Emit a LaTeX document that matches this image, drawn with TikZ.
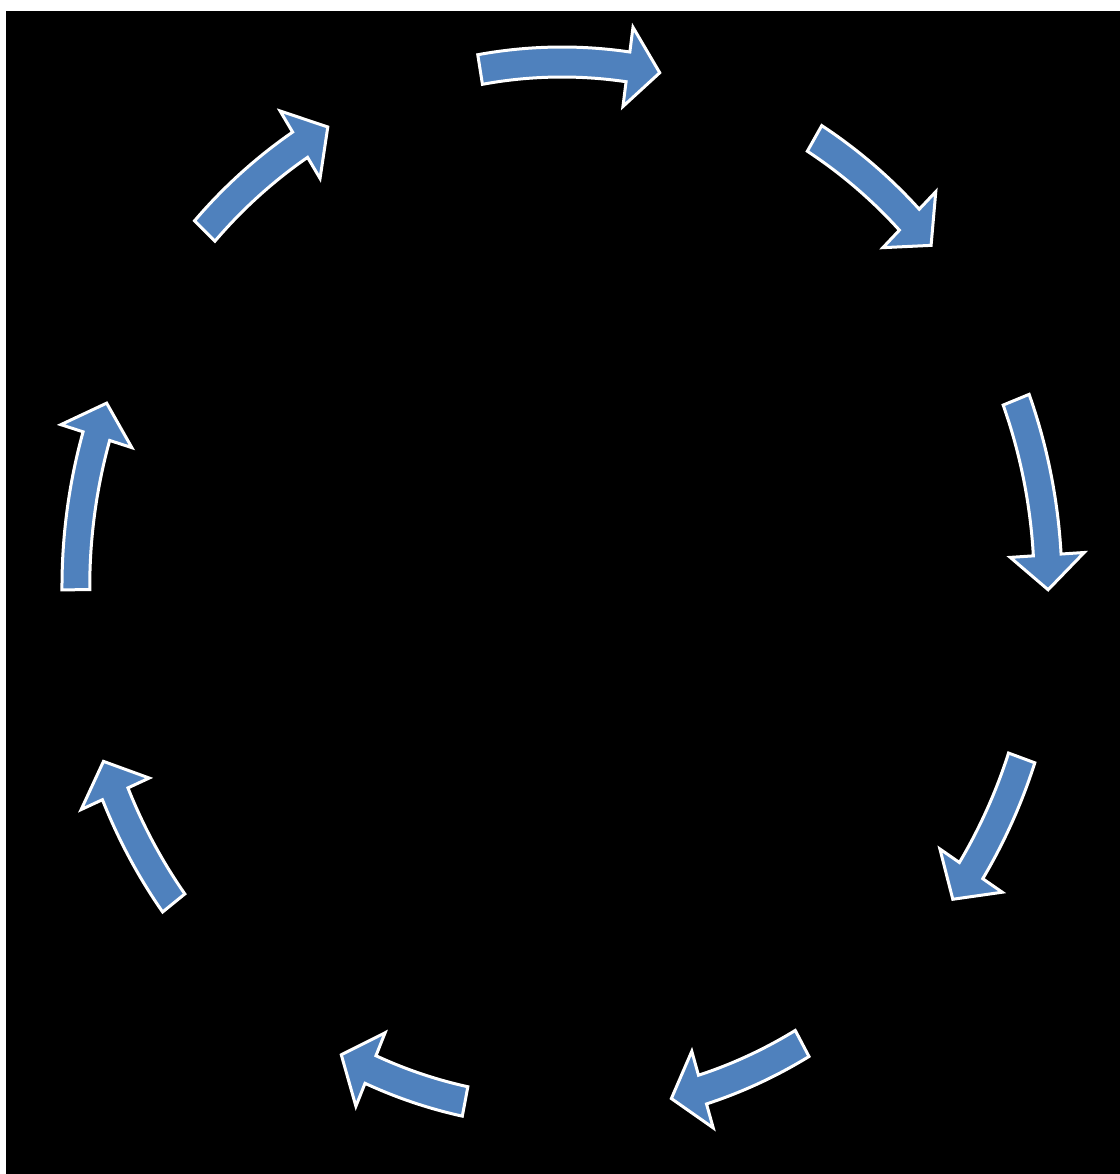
\documentclass[tikz,border=0pt]{standalone}
\usepackage{xcolor}
\usepackage{tikz}
\usetikzlibrary{calc}

\definecolor{cycblue}{HTML}{4F81BD}

\begin{document}
\begin{tikzpicture}[
  x=0.1mm, y=0.1mm,
  cyc/.style={fill=cycblue, draw=white, line width=0.3mm, line join=miter},
]
% page: white strips on top and left, black field
\useasboundingbox (-562,-587) rectangle (558,587);
\fill[white] (-562,-587) rectangle (558,587);
\fill[black] (-556,-587) rectangle (558,576);
% nine curved arrows running clockwise (tail angle / tip angle)
\begin{scope}[xscale=0.926]
\foreach \ta/\tb in {99.7/78.4, 58.7/40.6, 20.9/-0.3, -19/-36.5,
                     -60.4/-77, -101.5/-117, -143/-160.6,
                     -179.7/-200.5, -222.7/-241.2} {
  \pgfmathsetmacro{\th}{\tb+3.8}
  \draw[cyc] (\ta:540) arc[start angle=\ta, end angle=\th, radius=540]
    -- (\th:565) -- (\tb:525) -- (\th:485) -- (\th:510)
    arc[start angle=\th, end angle=\ta, radius=510] -- cycle;
}
\end{scope}
\end{tikzpicture}
\end{document}
